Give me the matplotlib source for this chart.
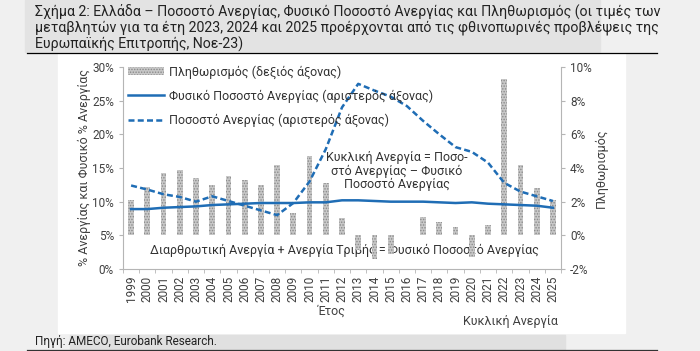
import matplotlib.pyplot as plt
import numpy as np
from matplotlib.patches import Rectangle
from matplotlib.lines import Line2D

plt.rcParams["font.family"] = ["Roboto", "DejaVu Sans"]

years = [str(y) for y in range(1999, 2026)]
inflation = [2.1, 2.9, 3.7, 3.9, 3.4, 3.0, 3.5, 3.3, 3.0, 4.2, 1.3, 4.7, 3.1, 1.0,
             -0.9, -1.4, -1.1, 0.0, 1.1, 0.8, 0.5, -1.3, 0.6, 9.3, 4.2, 2.8, 2.1]
natural_rate = [8.9, 8.9, 9.1, 9.2, 9.3, 9.5, 9.6, 9.7, 9.8, 9.8, 9.8, 9.9, 9.9, 10.2,
                10.2, 10.1, 10.0, 10.0, 10.0, 9.9, 9.8, 9.9, 9.7, 9.6, 9.5, 9.4, 9.1]
unemployment = [12.4, 11.8, 11.1, 10.7, 10.0, 10.8, 10.1, 9.4, 8.7, 8.0, 9.8, 13.0, 17.8, 24.0,
                27.5, 26.5, 25.6, 24.2, 22.0, 20.0, 18.1, 17.4, 15.8, 12.8, 11.5, 10.8, 10.1]

title = ("Σχήμα 2: Ελλάδα – Ποσοστό Ανεργίας, Φυσικό Ποσοστό Ανεργίας και Πληθωρισμός (οι τιμές των\n"
         "μεταβλητών για τα έτη 2023, 2024 και 2025 προέρχονται από τις φθινοπωρινές προβλέψεις της\n"
         "Ευρωπαϊκής Επιτροπής, Νοε-23)")

BLUE = "#1f6db5"
GREY = "#b5b5b5"
TXT = "#404040"
DASH = (0, (2.4, 1.3))

fig = plt.figure(figsize=(7, 3.51), dpi=100, facecolor="#f0f0f0")
W, H = 700, 351


def fig_rect(x0, y0, x1, y1, color):
    fig.patches.append(Rectangle((x0 / W, 1 - y1 / H), (x1 - x0) / W, (y1 - y0) / H,
                                 transform=fig.transFigure, color=color, zorder=-5))


fig_rect(25, 0, 600, 52, "#e3e3e3")
fig_rect(58, 53, 625, 333, "white")
fig_rect(70, 335, 565, 349, "#e0e0e0")
fig.add_artist(Line2D([27 / W, 657 / W], [1 - 52.5 / H] * 2, color="black", lw=0.9))
fig.add_artist(Line2D([27 / W, 657 / W], [1 - 349.5 / H] * 2, color="#333333", lw=0.9))

fig.text(35 / W, 1 - 4 / H, title, ha="left", va="top", fontsize=10.2, color="#222222",
         linespacing=1.12)
fig.text(35 / W, 1 - 342 / H, "Πηγή: AMECO, Eurobank Research.", ha="left", va="center",
         fontsize=8.5, color="#222222")

ax = fig.add_axes([123 / W, 1 - 269 / H, 438 / W, 202 / H])
ax.set_facecolor("none")
ax2 = ax.twinx()

x = np.arange(len(years))

# bars on the right axis
plt.rcParams["hatch.linewidth"] = 0.7
bars = ax.bar(x, inflation, width=0.36, color="#c8c8c8", edgecolor="#8a8a8a",
              hatch="......", linewidth=0, zorder=2)
ax.set_ylim(-2, 10)
ax.set_yticks([-2, 0, 2, 4, 6, 8, 10])
ax.set_yticklabels([f"{v}%" for v in [-2, 0, 2, 4, 6, 8, 10]])
ax.yaxis.tick_right()
ax.yaxis.set_label_position("right")
ax.set_ylabel("Πληθωρισμός", rotation=90, fontsize=9, color=TXT, labelpad=2)

# lines on the left axis
ax2.plot(x, natural_rate, color=BLUE, lw=1.8, zorder=3)
ax2.plot(x, unemployment, color=BLUE, lw=1.8, ls=DASH, zorder=3)
ax2.set_ylim(0, 30)
ax2.set_yticks(range(0, 31, 5))
ax2.set_yticklabels([f"{v}%" for v in range(0, 31, 5)])
ax2.yaxis.tick_left()
ax2.yaxis.set_label_position("left")
ax2.set_ylabel("% Ανεργίας και Φυσικό % Ανεργίας", fontsize=9, color=TXT, labelpad=1)

ax.set_xlim(-0.5, len(years) - 0.5)
ax.set_xticks(x)
ax.set_xticklabels(years)
ax.set_xticks(np.arange(-0.5, len(years), 1), minor=True)
ax.tick_params(axis="x", which="major", length=0, pad=5, labelrotation=90,
               labelsize=8.5, labelcolor=TXT)
ax.tick_params(axis="x", which="minor", length=3, color=GREY, direction="out")

for a in (ax, ax2):
    for s in a.spines.values():
        s.set_visible(False)
    a.tick_params(axis="y", labelsize=8.5, labelcolor=TXT, length=3, color=GREY)
ax2.spines["left"].set_visible(True)
ax2.spines["left"].set_color(GREY)
ax.spines["right"].set_visible(True)
ax.spines["right"].set_color(GREY)
ax.spines["bottom"].set_visible(True)
ax.spines["bottom"].set_color(GREY)

ax.text(0.625, 0.485, "Κυκλική Ανεργία = Ποσο-\nστό Ανεργίας – Φυσικό\nΠοσοστό Ανεργίας",
        transform=ax.transAxes, ha="center", va="center", fontsize=9, color="#333333",
        linespacing=1.05, zorder=1)
ax.text(0.505, 0.094, "Διαρθρωτική Ανεργία + Ανεργία Τριβής = Φυσικό Ποσοστό Ανεργίας",
        transform=ax.transAxes, ha="center", va="center", fontsize=9, color="#333333", zorder=1)

fig.text(332 / W, 1 - 311 / H, "Έτος", ha="center", va="center", fontsize=9, color=TXT)
fig.text(510 / W, 1 - 321 / H, "Κυκλική Ανεργία", ha="center", va="center", fontsize=9, color=TXT)

handles = [bars,
           Line2D([], [], color=BLUE, lw=1.8),
           Line2D([], [], color=BLUE, lw=1.8, ls=DASH)]
labels = ["Πληθωρισμός (δεξιός άξονας)",
          "Φυσικό Ποσοστό Ανεργίας (αριστερός άξονας)",
          "Ποσοστό Ανεργίας (αριστερός άξονας)"]
leg = ax2.legend(handles, labels, loc="upper left", bbox_to_anchor=(0.0, 1.035),
                 frameon=False, fontsize=9, handlelength=2.9, handletextpad=0.4,
                 labelspacing=0.85, borderaxespad=0)
for t in leg.get_texts():
    t.set_color("#333333")

fig.savefig("out.png", dpi=100, facecolor=fig.get_facecolor())
